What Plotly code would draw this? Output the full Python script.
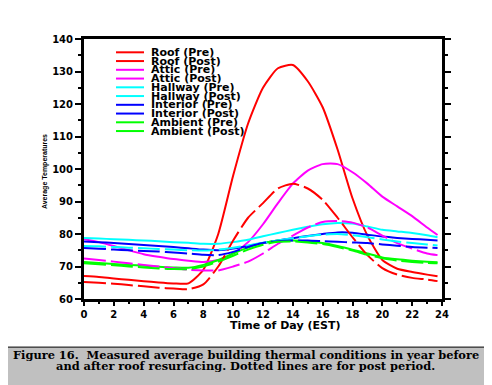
import plotly.graph_objects as go

hours = [0, 1, 2, 3, 4, 5, 6, 7, 8, 9, 10, 11, 12, 13, 14, 15, 16, 17, 18, 19, 20, 21, 22, 23, 23.7]

roof_pre = [67.1, 66.8, 66.3, 65.9, 65.5, 65.1, 64.8, 64.8, 69, 80, 98, 114, 125, 131, 132, 127, 119, 106, 91, 79.5, 72, 69.3, 68.3, 67.5, 67]
roof_post = [65.2, 65, 64.7, 64.3, 63.9, 63.5, 63.2, 63, 64.5, 70, 78, 85, 89.5, 94, 95.5, 94, 90.5, 85, 79, 73.5, 69.5, 67.5, 66.5, 66, 65.5]
attic_pre = [78.5, 77.5, 76.3, 75, 73.8, 73, 72.3, 71.8, 71.4, 72, 74, 77.5, 83, 89.5, 95.5, 99.5, 101.5, 101.5, 99, 95.5, 91.5, 88.5, 85.5, 82, 79.7]
attic_post = [72.5, 72, 71.5, 71, 70.5, 70, 69.5, 69, 68.8, 68.8, 70, 71.5, 74, 77, 79.5, 82, 83.7, 84, 83.5, 82, 79.5, 77.2, 75.5, 74, 73.5]
hallway_pre = [78.8, 78.6, 78.4, 78.2, 78, 77.8, 77.5, 77.3, 77, 77, 77.5, 78.2, 79.3, 80.3, 81.3, 82.2, 83, 83.4, 83.2, 82.3, 81.3, 80.8, 80.3, 79.6, 79]
hallway_post = [76.3, 76.2, 76, 75.8, 75.6, 75.4, 75.2, 75, 74.9, 75.2, 75.8, 76.5, 77.3, 78, 78.7, 79.3, 79.8, 80, 79.6, 79, 78.3, 77.7, 77.2, 76.8, 76.5]
interior_pre = [77.7, 77.5, 77.2, 76.9, 76.6, 76.3, 76, 75.6, 75.2, 75, 75.5, 76.3, 77.2, 78, 78.7, 79.4, 80, 80.5, 80.4, 79.8, 79.2, 78.8, 78.5, 78.2, 78]
interior_post = [75.7, 75.5, 75.2, 75, 74.8, 74.6, 74.3, 74, 73.6, 73.5, 74.5, 76, 77.2, 77.8, 78, 78, 77.8, 77.6, 77.4, 77.2, 76.8, 76.4, 76, 75.8, 75.7]
ambient_pre = [71.4, 71.1, 70.8, 70.5, 70.2, 69.9, 69.7, 69.6, 70.5, 72, 74, 75.8, 77.2, 78, 78, 77.7, 77.2, 76.3, 75.2, 74, 72.8, 72.2, 71.8, 71.5, 71.3]
ambient_post = [71, 70.7, 70.4, 70, 69.7, 69.4, 69.2, 69.2, 70, 71.5, 73.3, 75.2, 76.7, 77.6, 77.7, 77.4, 76.9, 76, 74.9, 73.6, 72.5, 71.8, 71.4, 71.1, 71]

series_names = ["Roof (Pre)", "Roof (Post)", "Attic (Pre)", "Attic (Post)", "Hallway (Pre)",
                "Hallway (Post)", "Interior (Pre)", "Interior (Post)", "Ambient (Pre)", "Ambient (Post)"]
series_values = [roof_pre, roof_post, attic_pre, attic_post, hallway_pre,
                 hallway_post, interior_pre, interior_post, ambient_pre, ambient_post]
series_colors = ["#FF0000", "#FF0000", "#FF00FF", "#FF00FF", "#00FFFF",
                 "#00FFFF", "#0000FF", "#0000FF", "#00FF00", "#00FF00"]

y_ticks = [60, 70, 80, 90, 100, 110, 120, 130, 140]
x_ticks = [0, 2, 4, 6, 8, 10, 12, 14, 16, 18, 20, 22, 24]

fig = go.Figure()
order = [0, 2, 4, 6, 8, 1, 3, 5, 7, 9]
for i in order:
    post = "Post" in series_names[i]
    fig.add_trace(go.Scatter(
        x=hours, y=series_values[i], mode="lines", name=series_names[i],
        line=dict(color=series_colors[i], width=2, shape="spline", smoothing=0.6,
                  dash="22px,5px" if post else "solid"),
        showlegend=False,
    ))

tick_font = dict(family="DejaVu Sans", size=10, color="black", weight="bold")

# The page body has an 8px default margin, so margins are offset by 8px
fig.update_layout(
    width=492, height=385,
    margin=dict(l=76, r=58, t=31, b=94),
    paper_bgcolor="#c0c0c0",
    plot_bgcolor="white",
    xaxis=dict(range=[0, 24], tickvals=x_ticks, ticktext=[str(v) for v in x_ticks],
               showline=True, linecolor="black", linewidth=3, mirror=True,
               ticks="outside", ticklen=4, tickwidth=2, tickcolor="black",
               minor=dict(dtick=1, ticks="outside", ticklen=2, tickwidth=2, tickcolor="black"),
               showgrid=False, zeroline=False, tickfont=tick_font),
    yaxis=dict(range=[60, 140], tickvals=y_ticks, ticktext=[str(v) for v in y_ticks],
               showline=True, linecolor="black", linewidth=3, mirror="ticks",
               ticks="outside", ticklen=6, tickwidth=2, tickcolor="black",
               minor=dict(dtick=5, ticks="outside", ticklen=3, tickwidth=2, tickcolor="black"),
               showgrid=False, zeroline=False, tickfont=tick_font),
    font=dict(family="DejaVu Sans"),
)

# white panel behind the chart
fig.add_shape(type="rect", xref="paper", yref="paper",
              x0=-0.232, x1=1.126, y0=-0.185, y1=1.146,
              fillcolor="white", line=dict(color="black", width=1), layer="below")

# axis titles
fig.add_annotation(text="Time of Day (EST)", xref="paper", yref="paper", x=0.561, y=-0.1,
                   yanchor="middle", showarrow=False,
                   font=dict(family="DejaVu Sans", size=11, weight="bold", color="black"))
fig.add_annotation(text="Average Temperatures", xref="paper", yref="paper", x=-0.1257, y=0.492,
                   textangle=-90, showarrow=False,
                   font=dict(family="Liberation Sans", size=7, weight="bold", color="black"))

# manual legend
lx0, lx1, ltx = 0.0894, 0.1676, 0.1810
ly0, lstep = 0.9488, 0.03365
for k, (nm, col) in enumerate(zip(series_names, series_colors)):
    yy = ly0 - k * lstep
    fig.add_shape(type="line", xref="paper", yref="paper", x0=lx0, x1=lx1, y0=yy, y1=yy,
                  line=dict(color=col, width=2))
    fig.add_annotation(text=nm, xref="paper", yref="paper", x=ltx, y=yy, xanchor="left",
                       yanchor="middle", showarrow=False,
                       font=dict(family="DejaVu Sans", size=11, weight="bold", color="black"))

# caption
cap_font = dict(family="DejaVu Serif", size=11.4, weight="bold", color="black")
fig.add_annotation(text="Figure 16.  Measured average building thermal conditions in year before",
                   xref="paper", yref="paper", x=0.4525, y=-0.2135, showarrow=False,
                   xanchor="center", yanchor="middle", font=cap_font)
fig.add_annotation(text="and after roof resurfacing. Dotted lines are for post period.",
                   xref="paper", yref="paper", x=0.4525, y=-0.2577, showarrow=False,
                   xanchor="center", yanchor="middle", font=cap_font)

fig.write_html("out.html")
